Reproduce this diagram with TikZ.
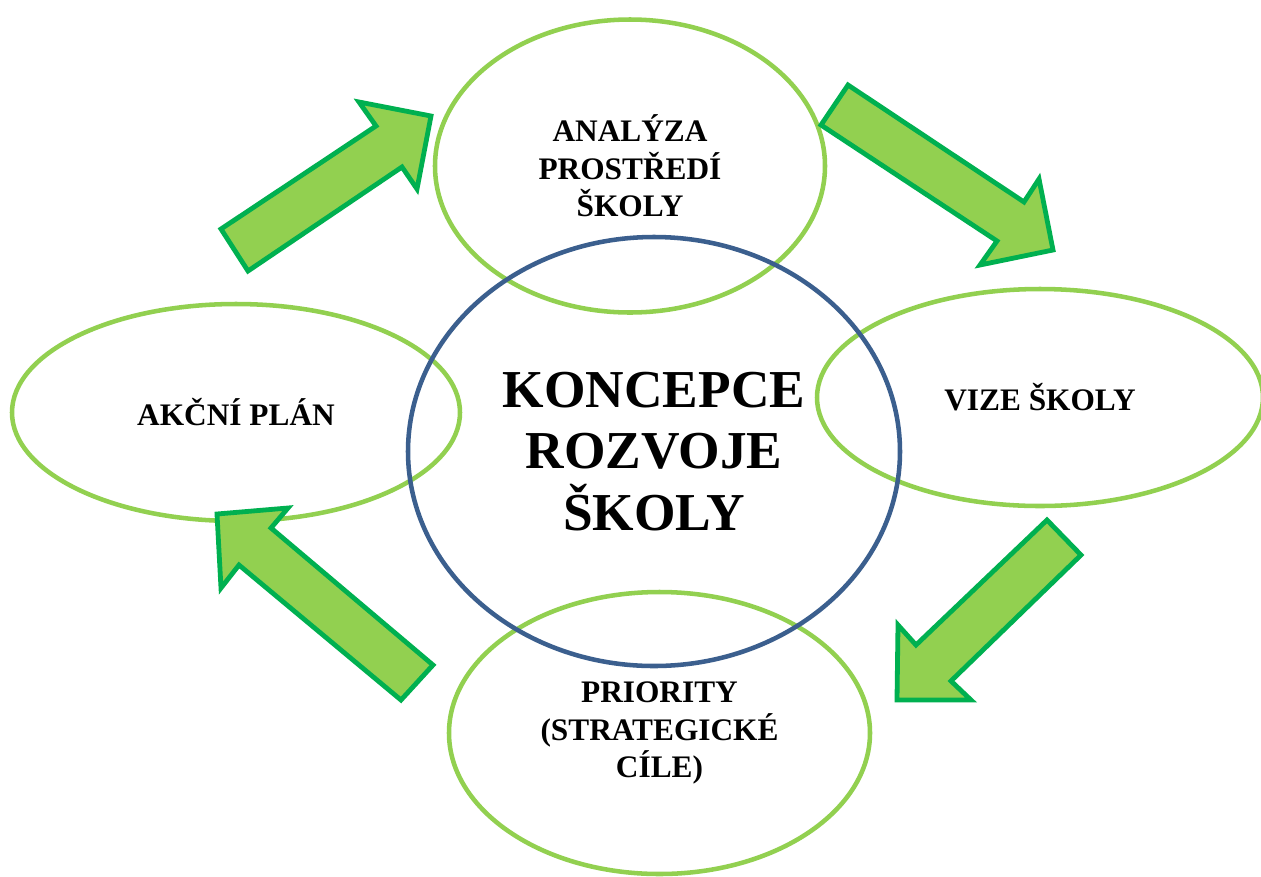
\documentclass[tikz,border=0pt]{standalone}
\usepackage{fontspec}
\setmainfont{Liberation Serif}
\usetikzlibrary{shapes.geometric}
\definecolor{ellgreen}{HTML}{92D050}
\definecolor{arrfill}{HTML}{92D050}
\definecolor{arrline}{HTML}{00B050}
\definecolor{circblue}{HTML}{3B5F8E}
\tikzset{
  ell/.style={ellipse, draw=ellgreen, line width=3.4pt, inner sep=0pt, align=center,
    font=\fontsize{23.5}{28}\selectfont\bfseries},
  bigcirc/.style={ellipse, draw=circblue, line width=3.4pt, inner sep=0pt, align=center,
    font=\fontsize{40}{46}\selectfont\bfseries},
  blockarrow/.style={fill=arrfill, draw=arrline, line width=3.6pt, line join=miter}
}
\begin{document}
\begin{tikzpicture}[x=0.75pt, y=-0.75pt]
\useasboundingbox (0,0) rectangle (1261,876);
\clip (0,0) rectangle (1261,876);
\fill[white] (0,0) rectangle (1261,876);

\node[ell, minimum width=390*0.75pt, minimum height=293*0.75pt] (ana) at (630,166) {ANALÝZA\\PROSTŘEDÍ\\ŠKOLY};
\node[ell, minimum width=446*0.75pt, minimum height=217*0.75pt] (vize) at (1040,397.5) {VIZE ŠKOLY};
\node[ell, minimum width=448*0.75pt, minimum height=217*0.75pt] (akc) at (236,412.5) {AKČNÍ PLÁN};
\node[ell, minimum width=421*0.75pt, minimum height=282*0.75pt] (pri) at (659.5,733) {PRIORITY\\(STRATEGICKÉ\\CÍLE)};
\node[bigcirc, minimum width=492*0.75pt, minimum height=429*0.75pt] (kon) at (654,451.5) {KONCEPCE\\ROZVOJE\\ŠKOLY};

% arrow: AKČNÍ PLÁN -> ANALÝZA
\draw[blockarrow] (221,229) -- (376,126) -- (359,102) -- (431,116) -- (417,189) -- (402,167) -- (248,271) -- cycle;
% arrow: ANALÝZA -> VIZE
\draw[blockarrow] (848,85) -- (1024,202) -- (1039,179) -- (1053,250) -- (980,265) -- (997,241) -- (821,125) -- cycle;
% arrow: VIZE -> PRIORITY
\draw[blockarrow] (1047,520) -- (1081,555) -- (951,681) -- (971,700) -- (897,700) -- (898,625) -- (916,645) -- cycle;
% arrow: PRIORITY -> AKČNÍ PLÁN
\draw[blockarrow] (433,665) -- (401,700) -- (239,565) -- (221,588) -- (217,514) -- (288,508) -- (271,528) -- cycle;
\end{tikzpicture}
\end{document}
